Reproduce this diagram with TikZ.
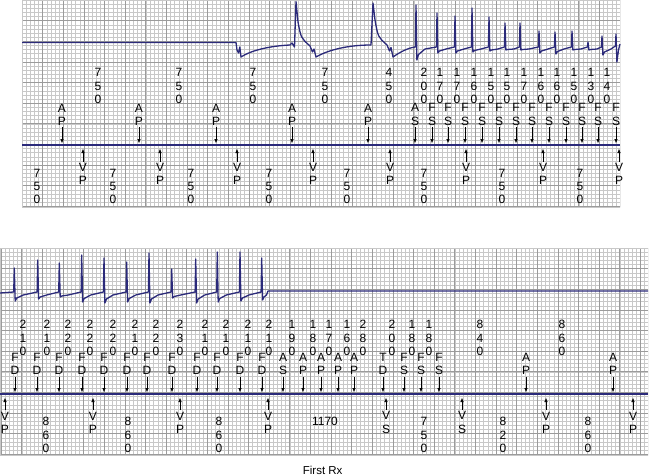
\documentclass[tikz,border=0pt]{standalone}
\usepackage{fontspec}
\setmainfont{Liberation Sans}
\usetikzlibrary{arrows.meta}

\definecolor{ecgblue}{RGB}{43,42,122}
\definecolor{gridminor}{RGB}{200,200,200}
\definecolor{gridmajor}{RGB}{155,155,155}

% paper grid: x0, y0, x1, y1, first major vertical line
\newcommand{\papergrid}[5]{%
  \begin{scope}
    \clip (#1,#2) rectangle (#3,#4);
    \foreach \k in {-1,...,160} \draw[minorline] ({#5+\k*4.124},#2) -- ({#5+\k*4.124},#4);
    \foreach \k in {0,...,50} \draw[minorline] (#1,{#2+\k*4.124}) -- (#3,{#2+\k*4.124});
    \foreach \k in {0,...,32} \draw[majorline] ({#5+\k*20.62},#2) -- ({#5+\k*20.62},#4);
    \foreach \k in {0,...,10} \draw[majorline] (#1,{#2+\k*20.62}) -- (#3,{#2+\k*20.62});
    \draw[minorline] (#1,#2) rectangle (#3,#4);
  \end{scope}}

\begin{document}
\begin{tikzpicture}[x=1pt, y=-1pt,
  minorline/.style={draw=gridminor, line width=0.4pt},
  majorline/.style={draw=gridmajor, line width=0.6pt},
  trace/.style={draw=ecgblue, line width=1.3pt, line join=round},
  marker/.style={draw=ecgblue, line width=1.8pt},
  lbl/.style={align=center, inner sep=0pt, font=\fontsize{12}{13.2}\selectfont},
  tick/.style={-{Latex[length=4.5pt,width=3.5pt]}, line width=0.7pt}]
\useasboundingbox (0,0) rectangle (650,476);

\papergrid{22}{0}{620}{207}{22}
\papergrid{0}{248}{648}{455}{1.1}

% top strip: ECG trace
\draw[trace] (22,42.5) -- (236,42.5) -- (237,50) -- (238.5,53) -- (239.8,47) -- (241,57)
  .. controls (250,51) and (268,46) .. (290,45) -- (292,43) -- (294.5,47) -- (296,1.5) -- (298,22)
  .. controls (301,38) .. (310,46) -- (312.5,52) -- (314,49) -- (316,57)
  .. controls (328,50) and (348,45) .. (371,45) -- (373,3) -- (375,20)
  .. controls (378,37) .. (387,45) -- (389.5,51) -- (391,47.5) -- (393,57)
  .. controls (400,52) and (408,48) .. (415,47)
  \foreach \sx/\st/\sd in {416/5/60, 437/13/53, 455/16/53, 472/8/52, 489/17/51, 505/23/50,
    520/23/50, 539/31/53, 555/32/54, 572/31/50, 588/42/50, 602/36/55}
    { -- ({\sx-0.6},47) -- (\sx,\st) -- ({\sx+0.9},\sd) -- ({\sx+2.5},{(\sd+49)/2}) -- ({\sx+9},49) }
  -- (615.4,46) -- (616,34) -- (616.9,62) -- (618.5,50) -- (620,44);

% top strip: marker channel
\coordinate (tL) at (22,145);
\coordinate (tR) at (620,145);
\coordinate (tA) at (0,143.5);
\coordinate (tB) at (0,148.5);
\draw[marker] (tL) -- (tR);

\foreach \x/\one/\two [count=\i] in {62/A/P, 139/A/P, 216/A/P, 292/A/P, 368/A/P, 415/A/S,
  432/F/S, 448/F/S, 465/F/S, 482/F/S, 499/F/S, 516/F/S, 532/F/S, 549/F/S, 566/F/S,
  582/F/S, 598/F/S, 616/F/S}{
  \node[lbl] (ta\i) at (\x,114.5) {\one\\\two};
  \draw[tick] ([yshift=-2pt]ta\i.south) -- (ta\i.south |- tA);
}
\foreach \x/\one/\two/\three [count=\i] in {98/7/5/0, 179/7/5/0, 253/7/5/0, 325/7/5/0,
  389/4/5/0, 424/2/0/0, 440/1/7/0, 457/1/7/0, 474/1/6/0, 491/1/5/0, 507/1/5/0,
  524/1/7/0, 541/1/6/0, 557/1/6/0, 574/1/5/0, 591/1/3/0, 607/1/4/0}
  \node[lbl] (tv\i) at (\x,86) {\one\\\two\\\three};
\foreach \x [count=\i] in {83, 160, 237, 313, 390, 466, 543, 619}{
  \node[lbl] (tb\i) at (\x,174) {V\\P};
  \draw[tick] ([yshift=1.5pt]tb\i.north) -- (tb\i.north |- tB);
}
\foreach \x [count=\i] in {37, 113, 191, 269, 347, 424, 502, 580}
  \node[lbl] (tw\i) at (\x,186.5) {7\\5\\0};

% bottom strip: ECG trace
\draw[trace] (0,293)
  \foreach \sx/\st/\sd in {14.3/268/301, 37.7/260/299, 59.3/263/297, 81.7/255/302,
    104/258/303, 126.7/262/302, 149/253/303, 171.7/269/298, 195.7/259/303,
    217.3/252/302, 240/252/301}
    { -- ({\sx-0.6},292) -- (\sx,\st) -- ({\sx+0.9},\sd) -- ({\sx+2.5},{(\sd+295)/2}) -- ({\sx+9},295) }
  -- (261.1,292) -- (261.7,258) -- (262.6,300) -- (264,297) -- (266.5,295) -- (268,291) -- (648,291);

% bottom strip: marker channel
\coordinate (bL) at (0,394);
\coordinate (bR) at (648,394);
\coordinate (bA) at (0,392.5);
\coordinate (bB) at (0,397.5);
\draw[marker] (bL) -- (bR);

\foreach \x/\one/\two [count=\i] in {15/F/D, 37/F/D, 59/F/D, 82/F/D, 104/F/D, 127/F/D,
  147/F/D, 172/F/D, 197/F/D, 217/F/D, 240/F/D, 262/F/D, 283/A/S, 303/A/P, 321/A/P,
  338/A/P, 354/A/P, 383/T/D, 404/F/S, 421/F/S, 439/F/S, 526/A/P, 613/A/P}{
  \node[lbl] (ba\i) at (\x,364) {\one\\\two};
  \draw[tick] ([yshift=-2pt]ba\i.south) -- (ba\i.south |- bA);
}
\foreach \x/\one/\two/\three [count=\i] in {23/2/1/0, 47/2/1/0, 68/2/2/0, 90/2/2/0,
  113/2/2/0, 135/2/1/0, 156/2/2/0, 180/2/3/0, 205/2/1/0, 226/2/1/0, 248/2/1/0,
  269/2/1/0, 292/1/9/0, 313/1/8/0, 329/1/7/0, 347/1/6/0, 363/2/8/0, 392/2/0/0,
  412/1/8/0, 429/1/8/0, 480/8/4/0, 562/8/6/0}
  \node[lbl] (bv\i) at (\x,338) {\one\\\two\\\three};
\foreach \x/\one/\two [count=\i] in {5/V/P, 93/V/P, 180/V/P, 268/V/P, 386/V/S, 462/V/S,
  546/V/P, 633/V/P}{
  \node[lbl] (bb\i) at (\x,422.5) {\one\\\two};
  \draw[tick] ([yshift=1.5pt]bb\i.north) -- (bb\i.north |- bB);
}
\foreach \x/\one/\two/\three [count=\i] in {46/8/6/0, 128/8/6/0, 219/8/6/0, 424/7/5/0,
  503/8/2/0, 588/8/6/0}
  \node[lbl] (bw\i) at (\x,435) {\one\\\two\\\three};
\node[lbl] (gap) at (325,421) {1170};

\node[font=\fontsize{11.5}{13}\selectfont, inner sep=0pt] (rx) at (322.7,470) {First Rx};
\end{tikzpicture}
\end{document}
